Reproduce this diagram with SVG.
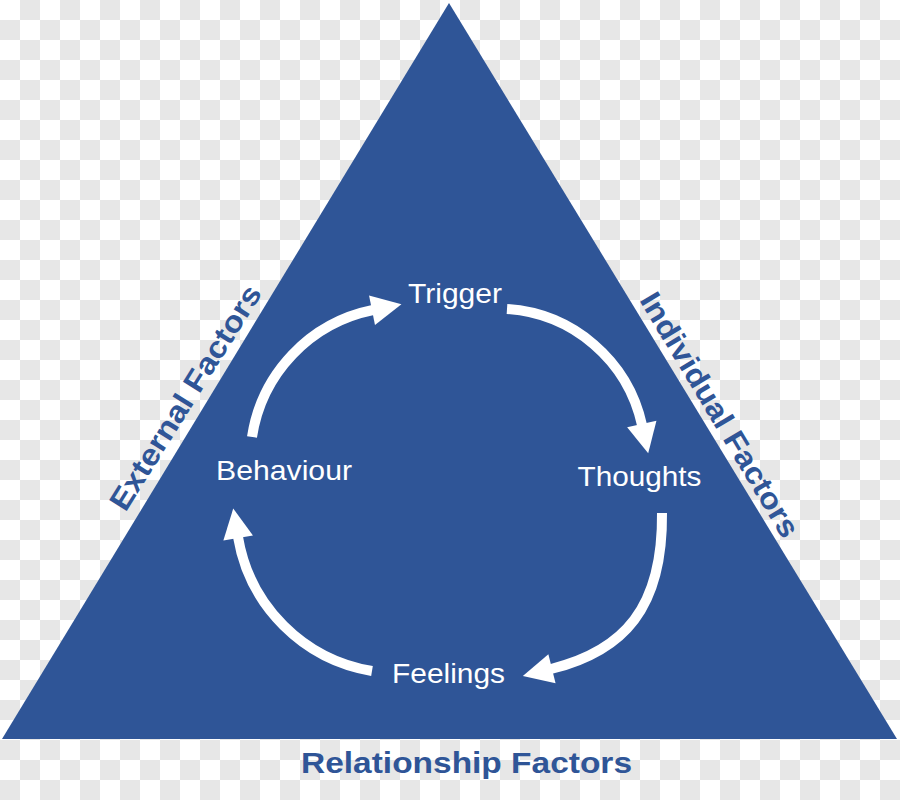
<svg xmlns="http://www.w3.org/2000/svg" width="900" height="800" viewBox="0 0 900 800">
  <defs>
    <pattern id="checker" x="0" y="0" width="40" height="40" patternUnits="userSpaceOnUse">
      <rect x="0" y="0" width="40" height="40" fill="#ffffff"/>
      <rect x="20" y="0" width="20" height="20" fill="#e7e7e7"/>
      <rect x="0" y="20" width="20" height="20" fill="#e7e7e7"/>
    </pattern>
    <marker id="ah" markerUnits="userSpaceOnUse" markerWidth="34" markerHeight="34" viewBox="-2 -17 34 34" refX="1" refY="0" orient="auto">
      <path d="M0,-15 L30,0 L0,15 Z" fill="#ffffff"/>
    </marker>
    <style>
      .cycle { font-family: "Liberation Sans", Arial, sans-serif; font-size: 28px; fill: #ffffff; text-anchor: middle; }
      .factor { font-family: "Liberation Sans", Arial, sans-serif; font-size: 30px; font-weight: bold; fill: #2f5597; text-anchor: middle; }
      .arc { fill: none; stroke: #ffffff; stroke-width: 10; marker-end: url(#ah); }
    </style>
  </defs>

  <rect x="0" y="0" width="900" height="800" fill="url(#checker)"/>

  <g id="triangle">
    <polygon points="449,3 2,739 897,739" fill="#2f5597"/>
  </g>

  <g id="connectors">
    <path class="arc" d="M252,437 A153,153 0 0 1 373,310"/>
    <path class="arc" d="M507,309 A148,148 0 0 1 642,425"/>
    <path class="arc" d="M662,513 C663,608 624,651 551,669"/>
    <path class="arc" d="M372,671 A163,163 0 0 1 238,537"/>
  </g>

  <g id="trigger">
    <text class="cycle" x="455" y="303" textLength="94" lengthAdjust="spacingAndGlyphs">Trigger</text>
  </g>
  <g id="thoughts">
    <text class="cycle" x="639.5" y="486" textLength="124" lengthAdjust="spacingAndGlyphs">Thoughts</text>
  </g>
  <g id="feelings">
    <text class="cycle" x="448.5" y="683" textLength="113" lengthAdjust="spacingAndGlyphs">Feelings</text>
  </g>
  <g id="behaviour">
    <text class="cycle" x="284" y="479.5" textLength="136" lengthAdjust="spacingAndGlyphs">Behaviour</text>
  </g>

  <g id="external-factors">
    <text class="factor" x="0" y="0" transform="translate(194,403) rotate(-58)" textLength="259" lengthAdjust="spacingAndGlyphs">External Factors</text>
  </g>
  <g id="individual-factors">
    <text class="factor" x="0" y="0" transform="translate(711,420) rotate(59)" textLength="280" lengthAdjust="spacingAndGlyphs">Individual Factors</text>
  </g>
  <g id="relationship-factors">
    <text class="factor" x="466.5" y="773" textLength="331" lengthAdjust="spacingAndGlyphs">Relationship Factors</text>
  </g>
</svg>
